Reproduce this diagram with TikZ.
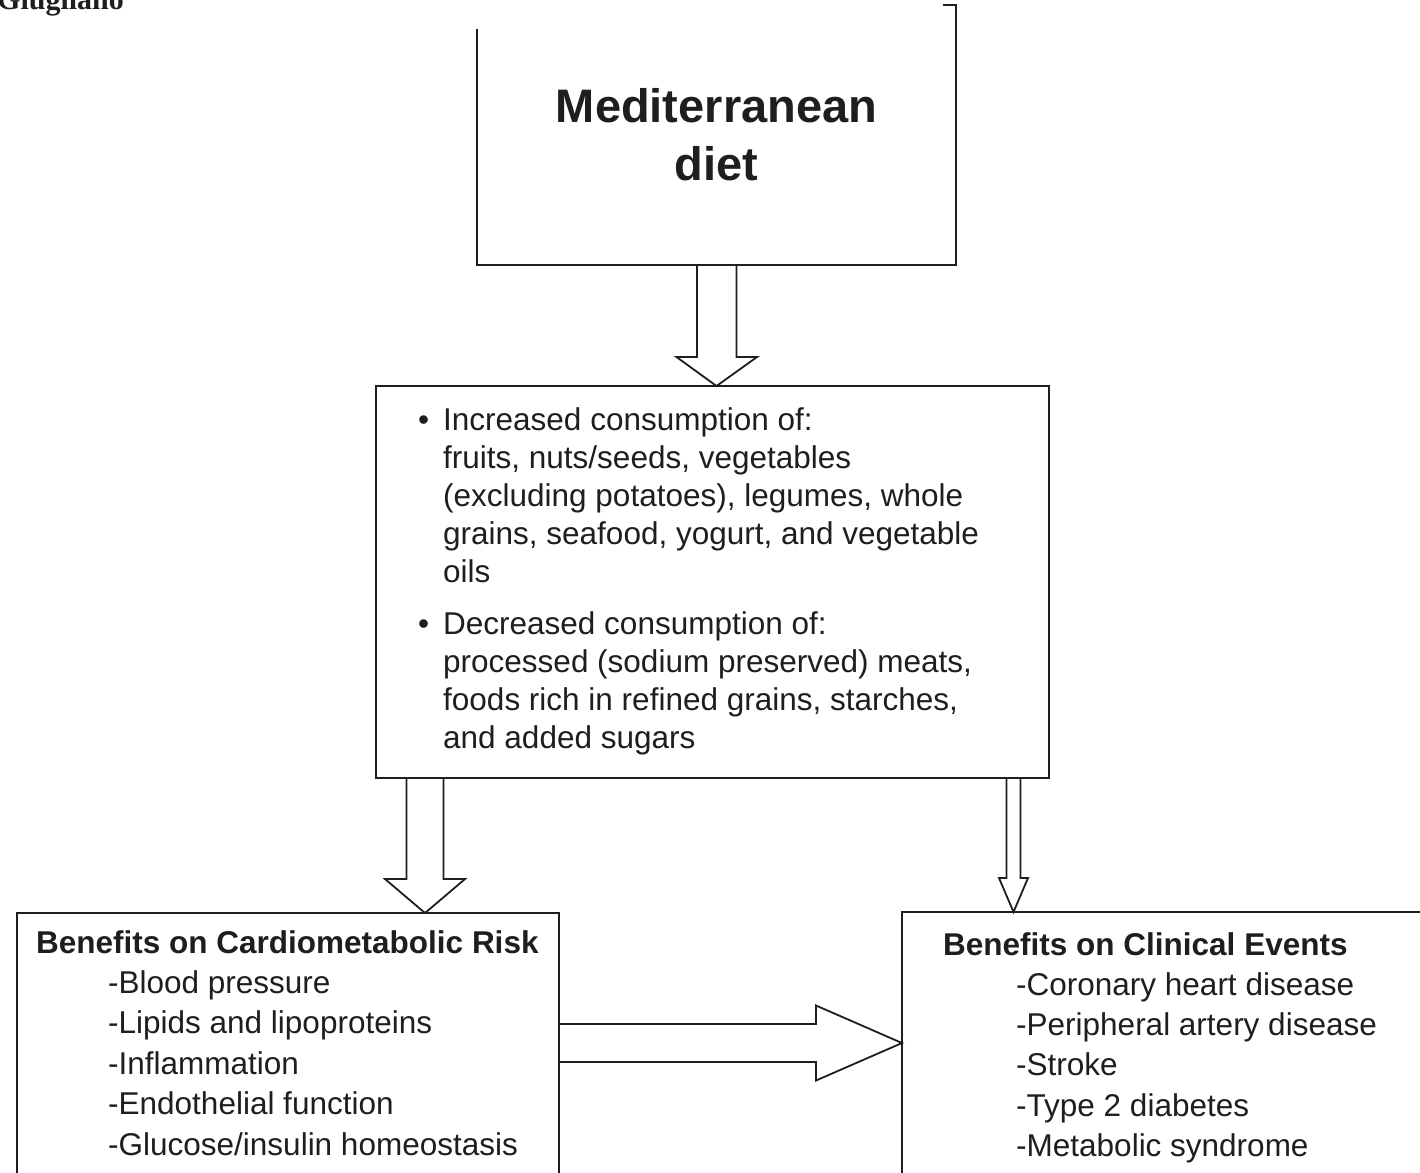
\documentclass[tikz,border=0pt]{standalone}
\usepackage{fontspec}
\setmainfont{Liberation Sans}
\newfontfamily\giufont{Liberation Serif}
\usetikzlibrary{positioning, calc}

\definecolor{ink}{HTML}{1E1E1E}

\tikzset{
  panel/.style={draw=ink, rectangle, line width=1.8pt, inner sep=0pt, outer sep=0pt},
  hollow/.style={draw=ink, line width=1.8pt, line join=miter},
  bodytext/.style={anchor=base west, inner sep=0pt, text=ink, font=\fontsize{31.5pt}{38pt}\selectfont}
}

\begin{document}
\begin{tikzpicture}[x=1pt, y=-1pt]

  \useasboundingbox (0,0) rectangle (1420,1172);
  \clip (0,0) rectangle (1420,1172);

  % running head, cut by the page edge
  \node [anchor=base west, inner sep=0pt, text=ink, font=\giufont\bfseries\fontsize{30pt}{36pt}\selectfont] (runhead) at (-3,10) {Giugliano};

  % --- top box (its upper edge is cut off) ---
  \node [rectangle, minimum width=479pt, minimum height=260pt, inner sep=0pt, outer sep=0pt] (dietbox) at (716.5,135) {};
  \draw [ink, line width=2.6pt] ([yshift=-24pt]dietbox.north west) -- (dietbox.south west) -- (dietbox.south east) -- (dietbox.north east) -- ++(-13,0);
  \node [anchor=base, inner sep=0pt, text=ink, font=\bfseries\fontsize{47pt}{58pt}\selectfont] (title) at (716.5,122) {%
    \begin{tabular}[t]{@{}c@{}}Mediterranean\\diet\end{tabular}};

  % --- food box ---
  \node [panel, minimum width=673pt, minimum height=392pt, below=121pt of dietbox, xshift=-4pt] (foods) {};
  \node [bodytext] (foodtext) at (418,430) {%
    \begin{tabular}[t]{@{}l@{}l@{}}
      \makebox[25pt][l]{\textbullet} & Increased consumption of:\\
      & fruits, nuts/seeds, vegetables\\
      & (excluding potatoes), legumes, whole\\
      & grains, seafood, yogurt, and vegetable\\
      & oils\\[14pt]
      \makebox[25pt][l]{\textbullet} & Decreased consumption of:\\
      & processed (sodium preserved) meats,\\
      & foods rich in refined grains, starches,\\
      & and added sugars
    \end{tabular}};

  % --- benefit boxes (cut at the bottom) ---
  \node [panel, minimum width=542pt, minimum height=287pt] (risk) at (288,1056.5) {};
  \node [bodytext, font=\fontsize{31.5pt}{40.4pt}\selectfont] (risktext) at (36,953) {%
    \begin{tabular}[t]{@{}l@{}}
      \textbf{Benefits on Cardiometabolic Risk}\\
      \hspace*{72pt}-Blood pressure\\
      \hspace*{72pt}-Lipids and lipoproteins\\
      \hspace*{72pt}-Inflammation\\
      \hspace*{72pt}-Endothelial function\\
      \hspace*{72pt}-Glucose/insulin homeostasis
    \end{tabular}};

  \node [panel, minimum width=538pt, minimum height=288pt] (events) at (1171,1056) {};
  \node [bodytext, font=\fontsize{31.5pt}{40.3pt}\selectfont] (eventtext) at (943,955) {%
    \begin{tabular}[t]{@{}l@{}}
      \textbf{Benefits on Clinical Events}\\
      \hspace*{73pt}-Coronary heart disease\\
      \hspace*{73pt}-Peripheral artery disease\\
      \hspace*{73pt}-Stroke\\
      \hspace*{73pt}-Type 2 diabetes\\
      \hspace*{73pt}-Metabolic syndrome
    \end{tabular}};

  % --- hollow block arrows ---
  % diet -> foods
  \draw [hollow] ([xshift=-19.5pt]dietbox.south) -- ++(0,92) -- ++(-20.5,0) -- (dietbox.south |- foods.north) -- ++(40.5,-29) -- ++(-20.5,0) -- ++(0,-92);

  % foods -> risk
  \coordinate (riskdrop) at ([xshift=49pt]foods.south west);
  \draw [hollow] ([xshift=-18.5pt]riskdrop) -- ++(0,101) -- ++(-21.5,0) -- (riskdrop |- risk.north) -- ++(40,-34) -- ++(-21.5,0) -- ++(0,-101);

  % foods -> events
  \coordinate (eventdrop) at ([xshift=-35.5pt]foods.south east);
  \draw [hollow] ([xshift=-7pt]eventdrop) -- ++(0,100) -- ++(-7.5,0) -- (eventdrop |- events.north) -- ++(14.5,-34) -- ++(-7.5,0) -- ++(0,-100);

  % risk -> events
  \coordinate (riskout) at ([yshift=-130pt]risk.north east);
  \draw [hollow] ([yshift=19pt]riskout) -- ++(257,0) -- ++(0,-18.5) -- (riskout -| events.west) -- ++(-86,37.5) -- ++(0,-18.5) -- ++(-257,0);

\end{tikzpicture}
\end{document}
